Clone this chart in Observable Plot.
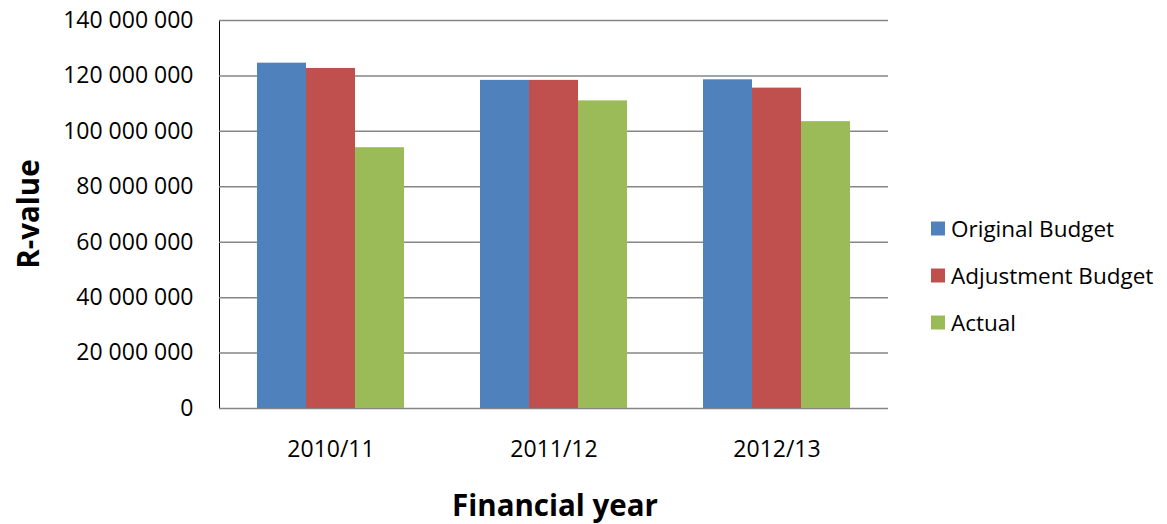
<!DOCTYPE html>
<html>
<head>
<meta charset="utf-8">
<script src="https://cdn.jsdelivr.net/npm/d3@7"></script>
<script src="https://cdn.jsdelivr.net/npm/@observablehq/plot@0.6"></script>
<style>
  body { margin: 0; background: #fff; }
  #wrap { position: relative; width: 1167px; height: 524px; overflow: hidden; font-family: "Open Sans", sans-serif; color: #000; }
  #wrap svg g[aria-label="y-axis"] path { stroke: #868686; stroke-width: 1.5px; }
  .ytitle { position: absolute; left: 28px; top: 214px; transform: translate(-50%, -50%) rotate(-90deg); font-weight: bold; font-size: 29.5px; line-height: 1; white-space: nowrap; }
  .xtitle { position: absolute; left: 555px; top: 505px; transform: translate(-50%, -50%); font-weight: bold; font-size: 29.5px; line-height: 1; white-space: nowrap; }
  .legend { position: absolute; left: 931px; top: 0; }
  .legend .row { position: absolute; left: 0; display: flex; align-items: center; white-space: nowrap; font-size: 22.5px; line-height: 1.2; transform: translateY(-50%); }
  .legend .sw { width: 14px; height: 14px; margin-right: 6px; }
</style>
</head>
<body>
<div id="wrap"></div>
<script>
const years = ["2010/11", "2011/12", "2012/13"];
const series = ["Original Budget", "Adjustment Budget", "Actual"];
const originalBudget = [124.6e6, 118.4e6, 118.6e6];
const adjustmentBudget = [122.7e6, 118.4e6, 115.6e6];
const actual = [94.1e6, 111.0e6, 103.5e6];
const colors = ["#4F81BD", "#C0504D", "#9BBB59"];
const yTicks = [0, 20e6, 40e6, 60e6, 80e6, 100e6, 120e6, 140e6];
const yTitle = "R-value";
const xTitle = "Financial year";

const seriesValues = [originalBudget, adjustmentBudget, actual];
const data = years.flatMap((year, i) =>
  series.map((s, j) => ({ year, series: s, value: seriesValues[j][i] }))
);

const fmt = d => d3.format(",")(d).replace(/,/g, " ");

const chart = Plot.plot({
  width: 1167,
  height: 524,
  marginLeft: 219,
  marginRight: 279,
  marginTop: 20,
  marginBottom: 116,
  style: { fontFamily: '"Open Sans", sans-serif', fontSize: "23px", color: "#000", background: "#fff", overflow: "visible" },
  facet: { data, x: "year" },
  fx: { domain: years, padding: 0, tickSize: 0, tickPadding: 32, label: null },
  x: { domain: series, paddingInner: 0, paddingOuter: 0.75, axis: null },
  y: { domain: [0, 140e6], ticks: yTicks, tickFormat: fmt, tickSize: 0, tickPadding: 26, line: true, label: null },
  color: { domain: series, range: colors },
  marks: [
    Plot.ruleY(yTicks, { stroke: "#868686", strokeWidth: 1.5 }),
    Plot.barY(data, { x: "series", y: "value", fill: "series" })
  ]
});

const wrap = document.getElementById("wrap");
wrap.appendChild(chart);

const yt = document.createElement("div");
yt.className = "ytitle"; yt.textContent = yTitle; wrap.appendChild(yt);
const xt = document.createElement("div");
xt.className = "xtitle"; xt.textContent = xTitle; wrap.appendChild(xt);

const legend = document.createElement("div");
legend.className = "legend";
const rowTops = [228, 275, 322];
series.forEach((s, i) => {
  const row = document.createElement("div");
  row.className = "row";
  row.style.top = rowTops[i] + "px";
  const sw = document.createElement("div");
  sw.className = "sw"; sw.style.background = colors[i];
  const label = document.createElement("span");
  label.textContent = s;
  row.appendChild(sw); row.appendChild(label);
  legend.appendChild(row);
});
wrap.appendChild(legend);
</script>
</body>
</html>
